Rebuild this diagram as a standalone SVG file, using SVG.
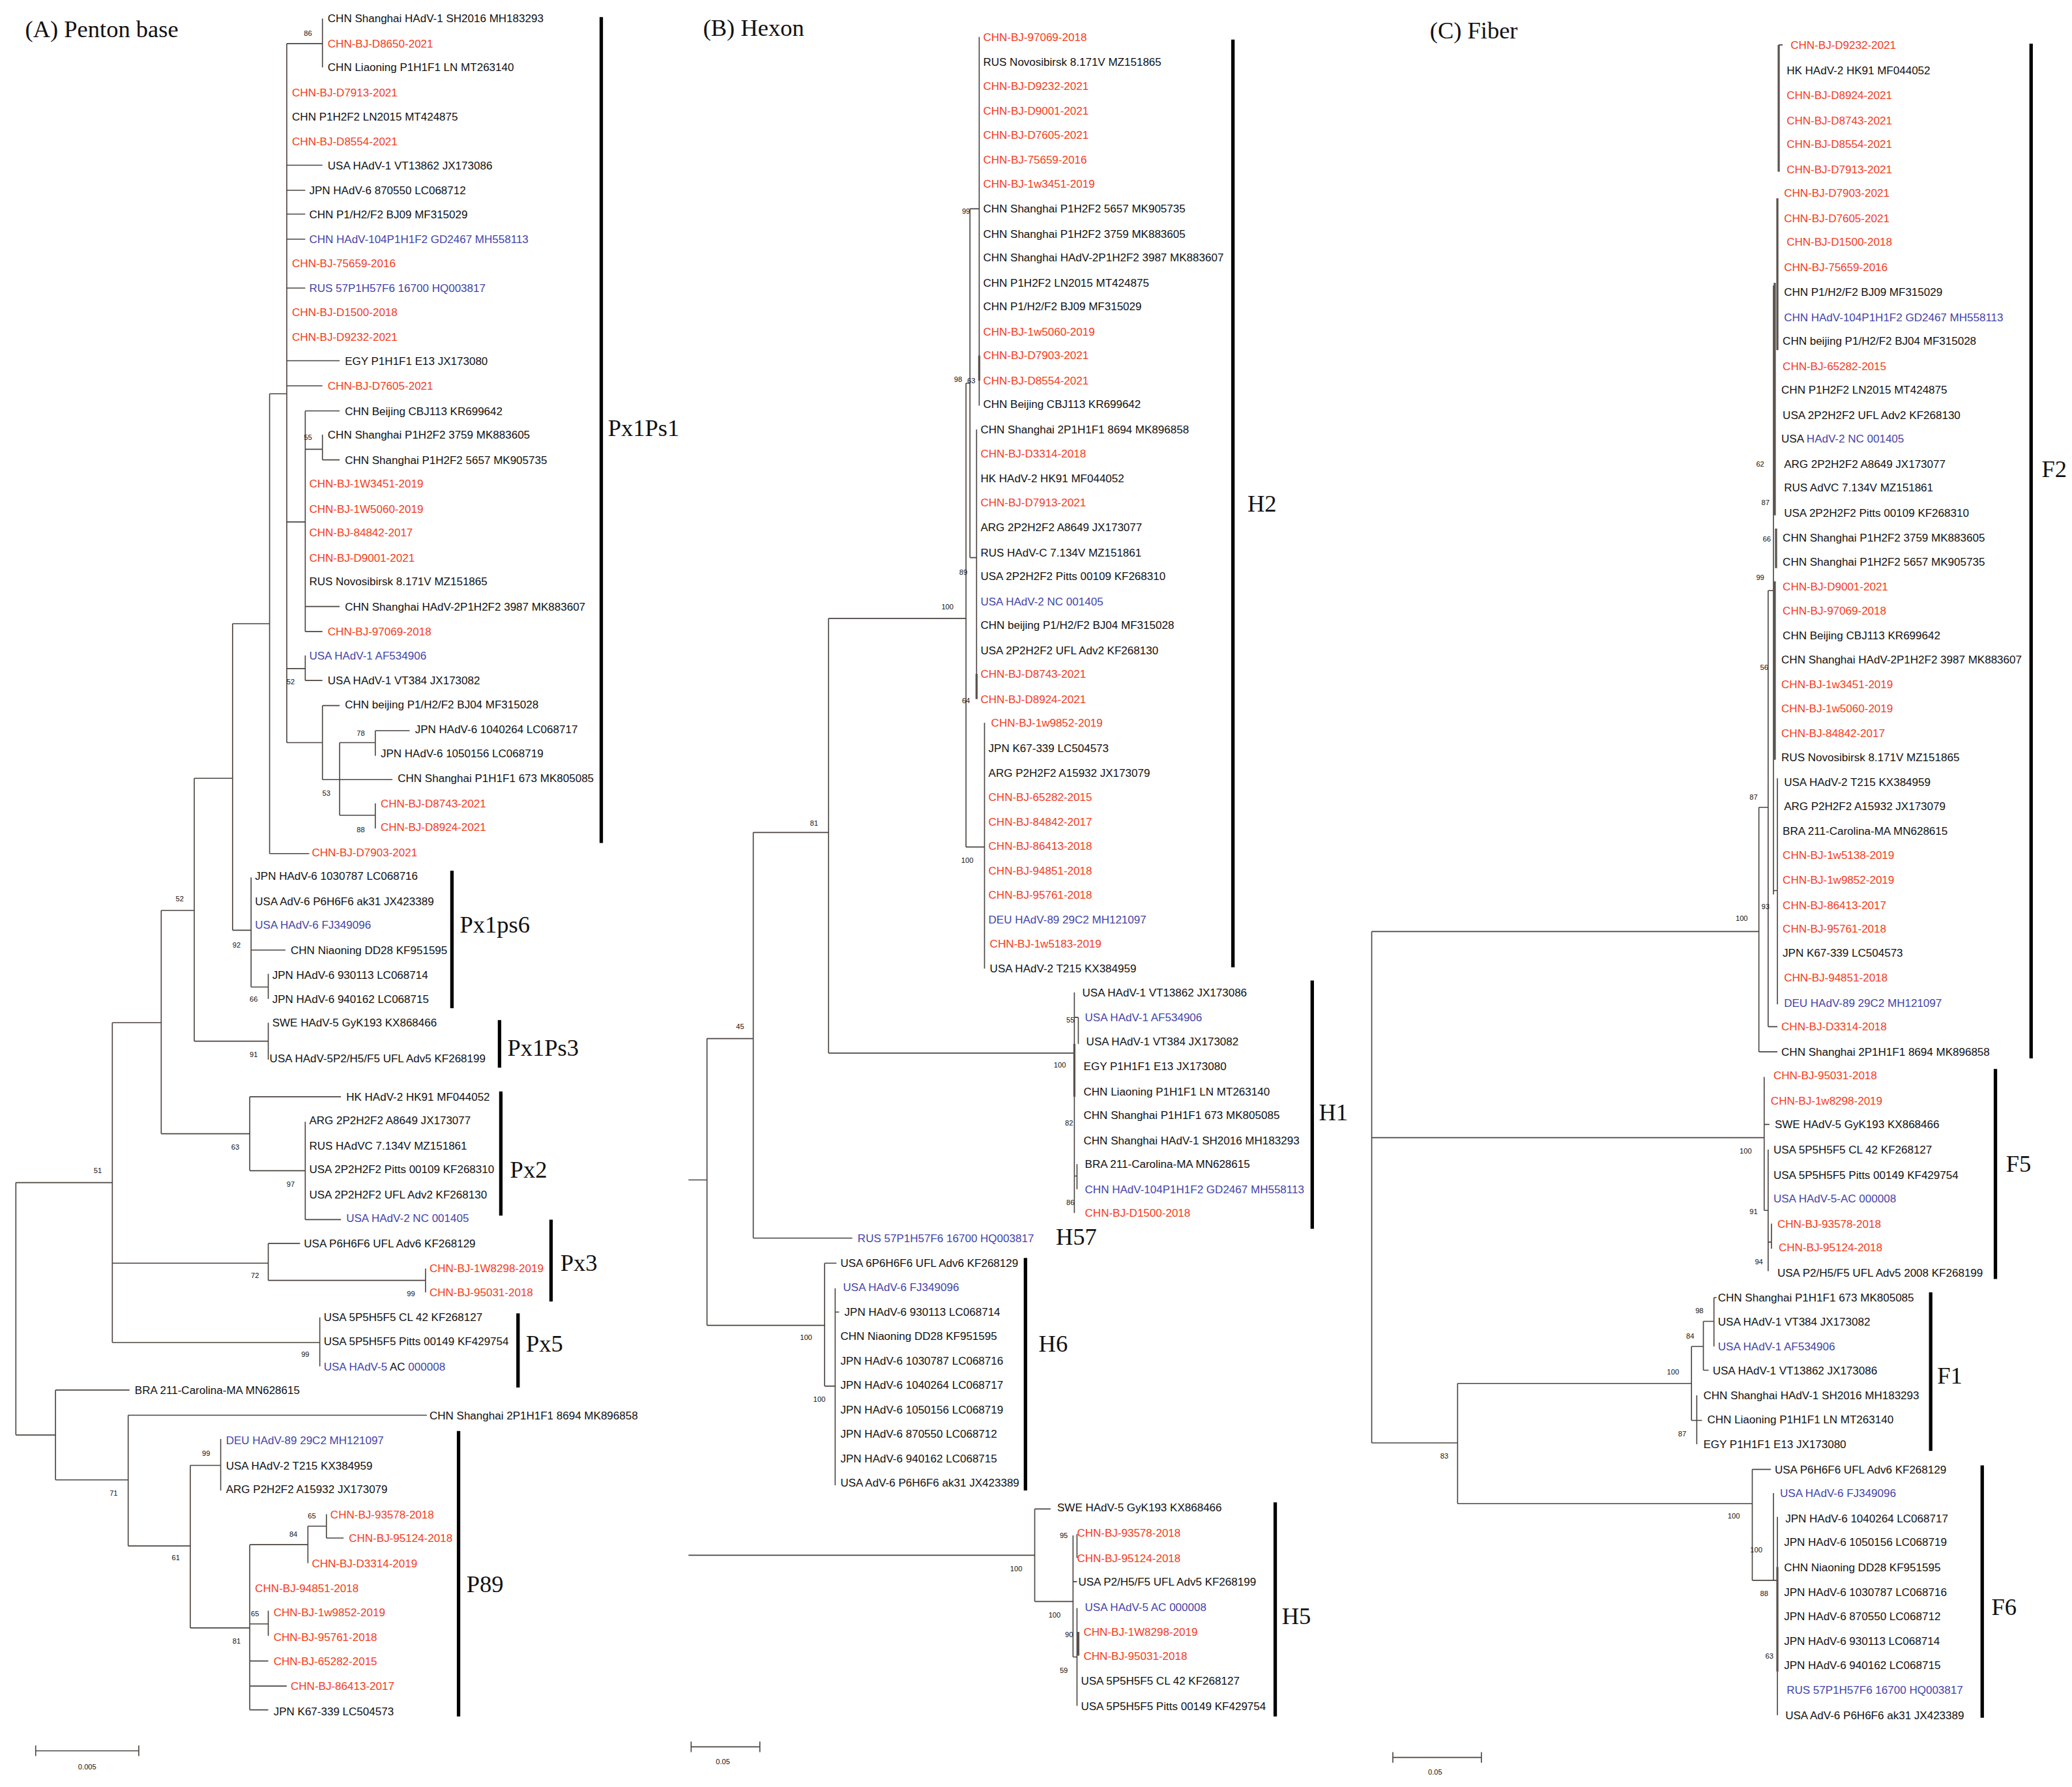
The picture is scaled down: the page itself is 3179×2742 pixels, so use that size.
<svg xmlns="http://www.w3.org/2000/svg" width="3179" height="2742" viewBox="0 0 3179 2742">
<style>
text{font-family:"Liberation Sans",Arial,sans-serif;font-size:8.4px;fill:#111}
.r{fill:#f53c1c}.b{fill:#4444a8}
.bs{font-size:5.5px;text-anchor:middle}
.cl,.ti{font-family:"Liberation Serif","Times New Roman",serif;font-size:18px}
.e{fill:none;stroke:#4a4440;stroke-width:0.8}
.k{fill:none;stroke:#5a524c;stroke-width:1.6}
.bar{stroke:#000;stroke-width:2.6}
</style>
<rect width="3179" height="2742" fill="#fff"/>
<g transform="scale(2.0275)">
<g id="titles">
<text class="ti" x="19" y="28">(A) Penton base</text>
<text class="ti" x="532" y="27">(B)  Hexon</text>
<text class="ti" x="1082" y="29">(C) Fiber</text>
</g>
<g id="connectors">
<path class="e" d="M12,895V1086M12,895H85M12,1086H42M85,774V1016M85,774H122M85,956H203M85,1016H242M122,689V858M122,689H147M122,858H189M147,589V788M147,589H176M147,788H203M203,774V802M176,472V704M176,472H204M176,704H190M204,298V646M204,298H217M204,646H234M217,33V562M217,33H244M244,14V51M217,125H244M217,144H231M217,162H231M217,181H231M217,218H231M217,273H257M217,292H244M217,395H231M231,311V478M231,311H257M231,340H244M244,329V348M244,348H257M231,459H257M231,478H244M217,506H231M231,496V515M231,515H244M217,562H244M244,534V590M244,534H257M244,590H297M257,562V617M257,562H284M284,553V572M284,553H310M257,617H284M284,608V627M190,664V747M190,719H216M190,747H203M203,737V756M189,830V886M189,830H258M189,886H231M231,849V923M231,923H258M203,941V969M203,941H227M203,969H322M322,960V978M242,997V1034M42,1052V1120M42,1052H98M42,1120H97M97,1071V1170M97,1071H323M97,1170H144M144,1109V1232M144,1109H167M167,1089V1128M144,1232H189M189,1169V1294M189,1169H233M233,1155V1183M233,1155H247M247,1146V1164M247,1164H260M189,1229H203M203,1219V1238M189,1257H203M189,1276H217M189,1294H203"/>
<path class="e" d="M521,893H535M535,786V1003M535,786H570M535,1003H624M570,630V937M570,630H627M570,937H645M627,468V797M627,468H731M627,797H813M731,290V641M731,290H734M734,158V422M734,158H741M741,28V307M734,422H739M739,325V529M731,641H745M745,547V733M813,751V918M813,770H816M816,770V790M813,890H815M815,881V900M624,956V1049M624,956H633M624,1049H632M632,975V1124M632,993H635M521,1177H783M783,1142V1212M783,1142H795M783,1212H812M812,1162V1254M812,1197H815M812,1254H815M815,1217V1291M815,1161V1179"/>
<path class="k" d="M741,269V288M739,510V529M816,1235V1253M813,790V830"/>
<path class="e" d="M1038,705V1092M1038,705H1331M1038,861H1335M1038,1092H1103M1331,611V796M1331,611H1338M1331,796H1345M1338,447V777M1338,447H1342M1338,777H1345M1342,216V677M1342,674H1345M1345,589V760M1346,34H1349M1335,815V916M1335,851H1339M1335,916H1338M1338,870V962M1338,940H1340.5M1340.5,926V945M1103,1047V1138M1103,1047H1280M1103,1138H1326M1280,1019V1075M1280,1019H1289M1280,1075H1284M1289,1000V1037M1289,1000H1297M1289,1037H1293M1297,982V1019M1297,982H1299M1284,1056V1093M1284,1075H1288M1326,1112V1196M1326,1112H1340M1326,1196H1342M1342,1130V1196M1342,1196H1345M1345,1148V1298"/>
<path class="k" d="M1346,34V130M1345,150V265M1343,214V390M1344,400V430M1343,440V575M1345,1186V1265"/>
<path class="e" d="M27,1325H105M27,1321V1329M105,1321V1329M523,1322H575M523,1318V1326M575,1318V1326M1054,1330H1121M1054,1326V1334M1121,1326V1334"/>
</g>
<g id="bars">
<path class="bar" d="M455,13V638M342,659V763M378,772V808M379,826V920M417,923V985M392,994V1050M347,1083V1299M933,30V732M993,742V930M776,952V1128M965,1137V1299M1537,33V801M1510,809V968M1461,978V1098M1500,1109V1300"/>
</g>
<g id="cladelabels">
<text class="cl" x="460" y="330">Px1Ps1</text>
<text class="cl" x="348" y="706">Px1ps6</text>
<text class="cl" x="384" y="799">Px1Ps3</text>
<text class="cl" x="386" y="891">Px2</text>
<text class="cl" x="424" y="962">Px3</text>
<text class="cl" x="398" y="1023">Px5</text>
<text class="cl" x="353" y="1205">P89</text>
<text class="cl" x="944" y="387">H2</text>
<text class="cl" x="998" y="848">H1</text>
<text class="cl" x="799" y="942">H57</text>
<text class="cl" x="786" y="1023">H6</text>
<text class="cl" x="970" y="1229">H5</text>
<text class="cl" x="1545" y="361">F2</text>
<text class="cl" x="1518" y="887">F5</text>
<text class="cl" x="1466" y="1047">F1</text>
<text class="cl" x="1507" y="1222">F6</text>
</g>
<g id="scales">
<text class="bs" x="66" y="1339">0.005</text>
<text class="bs" x="547" y="1335">0.05</text>
<text class="bs" x="1086" y="1343">0.05</text>
</g>
<g id="bootstrap">
<text class="bs" x="233" y="27">86</text><text class="bs" x="233" y="333">55</text><text class="bs" x="220" y="518">52</text><text class="bs" x="273" y="557">78</text><text class="bs" x="247" y="602">53</text><text class="bs" x="273" y="630">88</text><text class="bs" x="136" y="682">52</text><text class="bs" x="179" y="717">92</text><text class="bs" x="192" y="758">66</text><text class="bs" x="192" y="800">91</text><text class="bs" x="178" y="870">63</text><text class="bs" x="220" y="898">97</text><text class="bs" x="74" y="888">51</text><text class="bs" x="193" y="967">72</text><text class="bs" x="311" y="981">99</text><text class="bs" x="231" y="1027">99</text><text class="bs" x="86" y="1132">71</text><text class="bs" x="156" y="1102">99</text><text class="bs" x="133" y="1181">61</text><text class="bs" x="236" y="1149">65</text><text class="bs" x="222" y="1163">84</text><text class="bs" x="193" y="1223">65</text><text class="bs" x="179" y="1244">81</text>
<text class="bs" x="731" y="162">99</text><text class="bs" x="725" y="289">98</text><text class="bs" x="735" y="290">63</text><text class="bs" x="729" y="435">89</text><text class="bs" x="717" y="461">100</text><text class="bs" x="731" y="532">64</text><text class="bs" x="732" y="653">100</text><text class="bs" x="616" y="625">81</text><text class="bs" x="560" y="779">45</text><text class="bs" x="810" y="774">55</text><text class="bs" x="802" y="808">100</text><text class="bs" x="809" y="852">82</text><text class="bs" x="810" y="912">86</text><text class="bs" x="610" y="1014">100</text><text class="bs" x="620" y="1061">100</text><text class="bs" x="805" y="1164">95</text><text class="bs" x="769" y="1189">100</text><text class="bs" x="798" y="1224">100</text><text class="bs" x="809" y="1239">90</text><text class="bs" x="805" y="1266">59</text>
<text class="bs" x="1332" y="353">62</text><text class="bs" x="1336" y="382">87</text><text class="bs" x="1337" y="410">66</text><text class="bs" x="1332" y="439">99</text><text class="bs" x="1335" y="507">56</text><text class="bs" x="1327" y="605">87</text><text class="bs" x="1336" y="688">93</text><text class="bs" x="1318" y="697">100</text><text class="bs" x="1321" y="873">100</text><text class="bs" x="1327" y="919">91</text><text class="bs" x="1331" y="957">94</text><text class="bs" x="1286" y="994">98</text><text class="bs" x="1279" y="1013">84</text><text class="bs" x="1266" y="1040">100</text><text class="bs" x="1273" y="1087">87</text><text class="bs" x="1093" y="1104">83</text><text class="bs" x="1312" y="1149">100</text><text class="bs" x="1329" y="1175">100</text><text class="bs" x="1335" y="1208">88</text><text class="bs" x="1339" y="1255">63</text>
</g>
<g id="panelA">
<g id="a1"><text x="248" y="17">CHN Shanghai HAdV-1 SH2016 MH183293</text></g>
<g id="a2"><text class="r" x="248" y="36">CHN-BJ-D8650-2021</text></g>
<g id="a3"><text x="248" y="54">CHN Liaoning P1H1F1 LN MT263140</text></g>
<g id="a4"><text class="r" x="221" y="73">CHN-BJ-D7913-2021</text></g>
<g id="a5"><text x="221" y="91">CHN P1H2F2 LN2015 MT424875</text></g>
<g id="a6"><text class="r" x="221" y="110">CHN-BJ-D8554-2021</text></g>
<g id="a7"><text x="248" y="128">USA HAdV-1 VT13862 JX173086</text></g>
<g id="a8"><text x="234" y="147">JPN HAdV-6 870550 LC068712</text></g>
<g id="a9"><text x="234" y="165">CHN P1/H2/F2 BJ09 MF315029</text></g>
<g id="a10"><text class="b" x="234" y="184">CHN HAdV-104P1H1F2 GD2467 MH558113</text></g>
<g id="a11"><text class="r" x="221" y="202">CHN-BJ-75659-2016</text></g>
<g id="a12"><text class="b" x="234" y="221">RUS 57P1H57F6 16700 HQ003817</text></g>
<g id="a13"><text class="r" x="221" y="239">CHN-BJ-D1500-2018</text></g>
<g id="a14"><text class="r" x="221" y="258">CHN-BJ-D9232-2021</text></g>
<g id="a15"><text x="261" y="276">EGY P1H1F1 E13 JX173080</text></g>
<g id="a16"><text class="r" x="248" y="295">CHN-BJ-D7605-2021</text></g>
<g id="a17"><text x="261" y="314">CHN Beijing CBJ113 KR699642</text></g>
<g id="a18"><text x="248" y="332">CHN Shanghai P1H2F2 3759 MK883605</text></g>
<g id="a19"><text x="261" y="351">CHN Shanghai P1H2F2 5657 MK905735</text></g>
<g id="a20"><text class="r" x="234" y="369">CHN-BJ-1W3451-2019</text></g>
<g id="a21"><text class="r" x="234" y="388">CHN-BJ-1W5060-2019</text></g>
<g id="a22"><text class="r" x="234" y="406">CHN-BJ-84842-2017</text></g>
<g id="a23"><text class="r" x="234" y="425">CHN-BJ-D9001-2021</text></g>
<g id="a24"><text x="234" y="443">RUS Novosibirsk 8.171V MZ151865</text></g>
<g id="a25"><text x="261" y="462">CHN Shanghai HAdV-2P1H2F2 3987 MK883607</text></g>
<g id="a26"><text class="r" x="248" y="481">CHN-BJ-97069-2018</text></g>
<g id="a27"><text class="b" x="234" y="499">USA HAdV-1 AF534906</text></g>
<g id="a28"><text x="248" y="518">USA HAdV-1 VT384 JX173082</text></g>
<g id="a29"><text x="261" y="536">CHN beijing P1/H2/F2 BJ04 MF315028</text></g>
<g id="a30"><text x="314" y="555">JPN HAdV-6 1040264 LC068717</text></g>
<g id="a31"><text x="288" y="573">JPN HAdV-6 1050156 LC068719</text></g>
<g id="a32"><text x="301" y="592">CHN Shanghai P1H1F1 673 MK805085</text></g>
<g id="a33"><text class="r" x="288" y="611">CHN-BJ-D8743-2021</text></g>
<g id="a34"><text class="r" x="288" y="629">CHN-BJ-D8924-2021</text></g>
<g id="a35"><text class="r" x="236" y="648">CHN-BJ-D7903-2021</text></g>
<g id="a36"><text x="193" y="666">JPN HAdV-6 1030787 LC068716</text></g>
<g id="a37"><text x="193" y="685">USA AdV-6 P6H6F6 ak31 JX423389</text></g>
<g id="a38"><text class="b" x="193" y="703">USA HAdV-6 FJ349096</text></g>
<g id="a39"><text x="220" y="722">CHN Niaoning DD28 KF951595</text></g>
<g id="a40"><text x="206" y="741">JPN HAdV-6 930113 LC068714</text></g>
<g id="a41"><text x="206" y="759">JPN HAdV-6 940162 LC068715</text></g>
<g id="a42"><text x="206" y="777">SWE HAdV-5 GyK193 KX868466</text></g>
<g id="a43"><text x="204" y="804">USA HAdV-5P2/H5/F5 UFL Adv5 KF268199</text></g>
<g id="a44"><text x="262" y="833">HK HAdV-2 HK91 MF044052</text></g>
<g id="a45"><text x="234" y="851">ARG 2P2H2F2 A8649 JX173077</text></g>
<g id="a46"><text x="234" y="870">RUS HAdVC 7.134V MZ151861</text></g>
<g id="a47"><text x="234" y="888">USA 2P2H2F2 Pitts 00109 KF268310</text></g>
<g id="a48"><text x="234" y="907">USA 2P2H2F2 UFL Adv2 KF268130</text></g>
<g id="a49"><text class="b" x="262" y="925">USA HAdV-2 NC 001405</text></g>
<g id="a50"><text x="230" y="944">USA P6H6F6 UFL Adv6 KF268129</text></g>
<g id="a51"><text class="r" x="325" y="963">CHN-BJ-1W8298-2019</text></g>
<g id="a52"><text class="r" x="325" y="981">CHN-BJ-95031-2018</text></g>
<g id="a53"><text x="245" y="1000">USA 5P5H5F5 CL 42 KF268127</text></g>
<g id="a54"><text x="245" y="1018">USA 5P5H5F5 Pitts 00149 KF429754</text></g>
<g id="a55"><text x="245" y="1037"><tspan class="b">USA HAdV-5</tspan> AC <tspan class="b">000008</tspan></text></g>
<g id="a56"><text x="102" y="1055">BRA 211-Carolina-MA MN628615</text></g>
<g id="a57"><text x="325" y="1074">CHN Shanghai 2P1H1F1 8694 MK896858</text></g>
<g id="a58"><text class="b" x="171" y="1093">DEU HAdV-89 29C2 MH121097</text></g>
<g id="a59"><text x="171" y="1112">USA HAdV-2 T215 KX384959</text></g>
<g id="a60"><text x="171" y="1130">ARG P2H2F2 A15932 JX173079</text></g>
<g id="a61"><text class="r" x="250" y="1149">CHN-BJ-93578-2018</text></g>
<g id="a62"><text class="r" x="264" y="1167">CHN-BJ-95124-2018</text></g>
<g id="a63"><text class="r" x="236" y="1186">CHN-BJ-D3314-2019</text></g>
<g id="a64"><text class="r" x="193" y="1205">CHN-BJ-94851-2018</text></g>
<g id="a65"><text class="r" x="207" y="1223">CHN-BJ-1w9852-2019</text></g>
<g id="a66"><text class="r" x="207" y="1242">CHN-BJ-95761-2018</text></g>
<g id="a67"><text class="r" x="207" y="1260">CHN-BJ-65282-2015</text></g>
<g id="a68"><text class="r" x="220" y="1279">CHN-BJ-86413-2017</text></g>
<g id="a69"><text x="207" y="1298">JPN K67-339 LC504573</text></g>
</g>
<g id="panelB">
<g id="b1"><text class="r" x="744" y="31">CHN-BJ-97069-2018</text></g>
<g id="b2"><text x="744" y="50">RUS Novosibirsk 8.171V MZ151865</text></g>
<g id="b3"><text class="r" x="744" y="68">CHN-BJ-D9232-2021</text></g>
<g id="b4"><text class="r" x="744" y="87">CHN-BJ-D9001-2021</text></g>
<g id="b5"><text class="r" x="744" y="105">CHN-BJ-D7605-2021</text></g>
<g id="b6"><text class="r" x="744" y="124">CHN-BJ-75659-2016</text></g>
<g id="b7"><text class="r" x="744" y="142">CHN-BJ-1w3451-2019</text></g>
<g id="b8"><text x="744" y="161">CHN Shanghai P1H2F2 5657 MK905735</text></g>
<g id="b9"><text x="744" y="180">CHN Shanghai P1H2F2 3759 MK883605</text></g>
<g id="b10"><text x="744" y="198">CHN Shanghai HAdV-2P1H2F2 3987 MK883607</text></g>
<g id="b11"><text x="744" y="217">CHN P1H2F2 LN2015 MT424875</text></g>
<g id="b12"><text x="744" y="235">CHN P1/H2/F2 BJ09 MF315029</text></g>
<g id="b13"><text class="r" x="744" y="254">CHN-BJ-1w5060-2019</text></g>
<g id="b14"><text class="r" x="744" y="272">CHN-BJ-D7903-2021</text></g>
<g id="b15"><text class="r" x="744" y="291">CHN-BJ-D8554-2021</text></g>
<g id="b16"><text x="744" y="309">CHN Beijing CBJ113 KR699642</text></g>
<g id="b17"><text x="742" y="328">CHN Shanghai 2P1H1F1 8694 MK896858</text></g>
<g id="b18"><text class="r" x="742" y="346">CHN-BJ-D3314-2018</text></g>
<g id="b19"><text x="742" y="365">HK HAdV-2 HK91 MF044052</text></g>
<g id="b20"><text class="r" x="742" y="383">CHN-BJ-D7913-2021</text></g>
<g id="b21"><text x="742" y="402">ARG 2P2H2F2 A8649 JX173077</text></g>
<g id="b22"><text x="742" y="421">RUS HAdV-C 7.134V MZ151861</text></g>
<g id="b23"><text x="742" y="439">USA 2P2H2F2 Pitts 00109 KF268310</text></g>
<g id="b24"><text class="b" x="742" y="458">USA HAdV-2 NC 001405</text></g>
<g id="b25"><text x="742" y="476">CHN beijing P1/H2/F2 BJ04 MF315028</text></g>
<g id="b26"><text x="742" y="495">USA 2P2H2F2 UFL Adv2 KF268130</text></g>
<g id="b27"><text class="r" x="742" y="513">CHN-BJ-D8743-2021</text></g>
<g id="b28"><text class="r" x="742" y="532">CHN-BJ-D8924-2021</text></g>
<g id="b29"><text class="r" x="750" y="550">CHN-BJ-1w9852-2019</text></g>
<g id="b30"><text x="748" y="569">JPN K67-339 LC504573</text></g>
<g id="b31"><text x="748" y="588">ARG P2H2F2 A15932 JX173079</text></g>
<g id="b32"><text class="r" x="748" y="606">CHN-BJ-65282-2015</text></g>
<g id="b33"><text class="r" x="748" y="625">CHN-BJ-84842-2017</text></g>
<g id="b34"><text class="r" x="748" y="643">CHN-BJ-86413-2018</text></g>
<g id="b35"><text class="r" x="748" y="662">CHN-BJ-94851-2018</text></g>
<g id="b36"><text class="r" x="748" y="680">CHN-BJ-95761-2018</text></g>
<g id="b37"><text class="b" x="748" y="699">DEU HAdV-89 29C2 MH121097</text></g>
<g id="b38"><text class="r" x="749" y="717">CHN-BJ-1w5183-2019</text></g>
<g id="b39"><text x="749" y="736">USA HAdV-2 T215 KX384959</text></g>
<g id="b40"><text x="819" y="754">USA HAdV-1 VT13862 JX173086</text></g>
<g id="b41"><text class="b" x="821" y="773">USA HAdV-1 AF534906</text></g>
<g id="b42"><text x="822" y="791">USA HAdV-1 VT384 JX173082</text></g>
<g id="b43"><text x="820" y="810">EGY P1H1F1 E13 JX173080</text></g>
<g id="b44"><text x="820" y="829">CHN Liaoning P1H1F1 LN MT263140</text></g>
<g id="b45"><text x="820" y="847">CHN Shanghai P1H1F1 673 MK805085</text></g>
<g id="b46"><text x="820" y="866">CHN Shanghai HAdV-1 SH2016 MH183293</text></g>
<g id="b47"><text x="821" y="884">BRA 211-Carolina-MA MN628615</text></g>
<g id="b48"><text class="b" x="821" y="903">CHN HAdV-104P1H1F2 GD2467 MH558113</text></g>
<g id="b49"><text class="r" x="821" y="921">CHN-BJ-D1500-2018</text></g>
<g id="b50"><text class="b" x="649" y="940">RUS 57P1H57F6 16700 HQ003817</text></g>
<g id="b51"><text x="636" y="959">USA 6P6H6F6 UFL Adv6 KF268129</text></g>
<g id="b52"><text class="b" x="638" y="977">USA HAdV-6 FJ349096</text></g>
<g id="b53"><text x="639" y="996">JPN HAdV-6 930113 LC068714</text></g>
<g id="b54"><text x="636" y="1014">CHN Niaoning DD28 KF951595</text></g>
<g id="b55"><text x="636" y="1033">JPN HAdV-6 1030787 LC068716</text></g>
<g id="b56"><text x="636" y="1051">JPN HAdV-6 1040264 LC068717</text></g>
<g id="b57"><text x="636" y="1070">JPN HAdV-6 1050156 LC068719</text></g>
<g id="b58"><text x="636" y="1088">JPN HAdV-6 870550 LC068712</text></g>
<g id="b59"><text x="636" y="1107">JPN HAdV-6 940162 LC068715</text></g>
<g id="b60"><text x="636" y="1125">USA AdV-6 P6H6F6 ak31 JX423389</text></g>
<g id="b61"><text x="800" y="1144">SWE HAdV-5 GyK193 KX868466</text></g>
<g id="b62"><text class="r" x="815" y="1163">CHN-BJ-93578-2018</text></g>
<g id="b63"><text class="r" x="815" y="1182">CHN-BJ-95124-2018</text></g>
<g id="b64"><text x="816" y="1200">USA P2/H5/F5 UFL Adv5 KF268199</text></g>
<g id="b65"><text class="b" x="821" y="1219">USA HAdV-5 AC 000008</text></g>
<g id="b66"><text class="r" x="820" y="1238">CHN-BJ-1W8298-2019</text></g>
<g id="b67"><text class="r" x="820" y="1256">CHN-BJ-95031-2018</text></g>
<g id="b68"><text x="818" y="1275">USA 5P5H5F5 CL 42 KF268127</text></g>
<g id="b69"><text x="818" y="1294">USA 5P5H5F5 Pitts 00149 KF429754</text></g>
</g>
<g id="panelC">
<g id="c1"><text class="r" x="1355" y="37">CHN-BJ-D9232-2021</text></g>
<g id="c2"><text x="1352" y="56">HK HAdV-2 HK91 MF044052</text></g>
<g id="c3"><text class="r" x="1352" y="75">CHN-BJ-D8924-2021</text></g>
<g id="c4"><text class="r" x="1352" y="94">CHN-BJ-D8743-2021</text></g>
<g id="c5"><text class="r" x="1352" y="112">CHN-BJ-D8554-2021</text></g>
<g id="c6"><text class="r" x="1352" y="131">CHN-BJ-D7913-2021</text></g>
<g id="c7"><text class="r" x="1350" y="149">CHN-BJ-D7903-2021</text></g>
<g id="c8"><text class="r" x="1350" y="168">CHN-BJ-D7605-2021</text></g>
<g id="c9"><text class="r" x="1352" y="186">CHN-BJ-D1500-2018</text></g>
<g id="c10"><text class="r" x="1350" y="205">CHN-BJ-75659-2016</text></g>
<g id="c11"><text x="1350" y="224">CHN P1/H2/F2 BJ09 MF315029</text></g>
<g id="c12"><text class="b" x="1350" y="243">CHN HAdV-104P1H1F2 GD2467 MH558113</text></g>
<g id="c13"><text x="1349" y="261">CHN beijing P1/H2/F2 BJ04 MF315028</text></g>
<g id="c14"><text class="r" x="1349" y="280">CHN-BJ-65282-2015</text></g>
<g id="c15"><text x="1348" y="298">CHN P1H2F2 LN2015 MT424875</text></g>
<g id="c16"><text x="1349" y="317">USA 2P2H2F2 UFL Adv2 KF268130</text></g>
<g id="c17"><text x="1348" y="335">USA <tspan class="b">HAdV-2 NC 001405</tspan></text></g>
<g id="c18"><text x="1350" y="354">ARG 2P2H2F2 A8649 JX173077</text></g>
<g id="c19"><text x="1350" y="372">RUS AdVC 7.134V MZ151861</text></g>
<g id="c20"><text x="1350" y="391">USA 2P2H2F2 Pitts 00109 KF268310</text></g>
<g id="c21"><text x="1349" y="410">CHN Shanghai P1H2F2 3759 MK883605</text></g>
<g id="c22"><text x="1349" y="428">CHN Shanghai P1H2F2 5657 MK905735</text></g>
<g id="c23"><text class="r" x="1349" y="447">CHN-BJ-D9001-2021</text></g>
<g id="c24"><text class="r" x="1349" y="465">CHN-BJ-97069-2018</text></g>
<g id="c25"><text x="1349" y="484">CHN Beijing CBJ113 KR699642</text></g>
<g id="c26"><text x="1348" y="502">CHN Shanghai HAdV-2P1H2F2 3987 MK883607</text></g>
<g id="c27"><text class="r" x="1348" y="521">CHN-BJ-1w3451-2019</text></g>
<g id="c28"><text class="r" x="1348" y="539">CHN-BJ-1w5060-2019</text></g>
<g id="c29"><text class="r" x="1348" y="558">CHN-BJ-84842-2017</text></g>
<g id="c30"><text x="1348" y="576">RUS Novosibirsk 8.171V MZ151865</text></g>
<g id="c31"><text x="1350" y="595">USA HAdV-2 T215 KX384959</text></g>
<g id="c32"><text x="1350" y="613">ARG P2H2F2 A15932 JX173079</text></g>
<g id="c33"><text x="1349" y="632">BRA 211-Carolina-MA MN628615</text></g>
<g id="c34"><text class="r" x="1349" y="650">CHN-BJ-1w5138-2019</text></g>
<g id="c35"><text class="r" x="1349" y="669">CHN-BJ-1w9852-2019</text></g>
<g id="c36"><text class="r" x="1349" y="688">CHN-BJ-86413-2017</text></g>
<g id="c37"><text class="r" x="1349" y="706">CHN-BJ-95761-2018</text></g>
<g id="c38"><text x="1349" y="724">JPN K67-339 LC504573</text></g>
<g id="c39"><text class="r" x="1350" y="743">CHN-BJ-94851-2018</text></g>
<g id="c40"><text class="b" x="1350" y="762">DEU HAdV-89 29C2 MH121097</text></g>
<g id="c41"><text class="r" x="1348" y="780">CHN-BJ-D3314-2018</text></g>
<g id="c42"><text x="1348" y="799">CHN Shanghai 2P1H1F1 8694 MK896858</text></g>
<g id="c43"><text class="r" x="1342" y="817">CHN-BJ-95031-2018</text></g>
<g id="c44"><text class="r" x="1340" y="836">CHN-BJ-1w8298-2019</text></g>
<g id="c45"><text x="1343" y="854">SWE HAdV-5 GyK193 KX868466</text></g>
<g id="c46"><text x="1342" y="873">USA 5P5H5F5 CL 42 KF268127</text></g>
<g id="c47"><text x="1342" y="892">USA 5P5H5F5 Pitts 00149 KF429754</text></g>
<g id="c48"><text class="b" x="1342" y="910">USA HAdV-5-AC 000008</text></g>
<g id="c49"><text class="r" x="1345" y="929">CHN-BJ-93578-2018</text></g>
<g id="c50"><text class="r" x="1346" y="947">CHN-BJ-95124-2018</text></g>
<g id="c51"><text x="1345" y="966">USA P2/H5/F5 UFL Adv5 2008 KF268199</text></g>
<g id="c52"><text x="1300" y="985">CHN Shanghai P1H1F1 673 MK805085</text></g>
<g id="c53"><text x="1300" y="1003">USA HAdV-1 VT384 JX173082</text></g>
<g id="c54"><text class="b" x="1300" y="1022">USA HAdV-1 AF534906</text></g>
<g id="c55"><text x="1296" y="1040">USA HAdV-1 VT13862 JX173086</text></g>
<g id="c56"><text x="1289" y="1059">CHN Shanghai HAdV-1 SH2016 MH183293</text></g>
<g id="c57"><text x="1292" y="1077">CHN Liaoning P1H1F1 LN MT263140</text></g>
<g id="c58"><text x="1289" y="1096">EGY P1H1F1 E13 JX173080</text></g>
<g id="c59"><text x="1343" y="1115">USA P6H6F6 UFL Adv6 KF268129</text></g>
<g id="c60"><text class="b" x="1347" y="1133">USA HAdV-6 FJ349096</text></g>
<g id="c61"><text x="1351" y="1152">JPN HAdV-6 1040264 LC068717</text></g>
<g id="c62"><text x="1350" y="1170">JPN HAdV-6 1050156 LC068719</text></g>
<g id="c63"><text x="1350" y="1189">CHN Niaoning DD28 KF951595</text></g>
<g id="c64"><text x="1350" y="1208">JPN HAdV-6 1030787 LC068716</text></g>
<g id="c65"><text x="1350" y="1226">JPN HAdV-6 870550 LC068712</text></g>
<g id="c66"><text x="1350" y="1245">JPN HAdV-6 930113 LC068714</text></g>
<g id="c67"><text x="1350" y="1263">JPN HAdV-6 940162 LC068715</text></g>
<g id="c68"><text class="b" x="1352" y="1282">RUS 57P1H57F6 16700 HQ003817</text></g>
<g id="c69"><text x="1351" y="1301">USA AdV-6 P6H6F6 ak31 JX423389</text></g>
</g>
</g>
</svg>
